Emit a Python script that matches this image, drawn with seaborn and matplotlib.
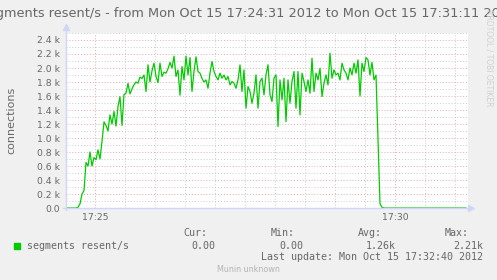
import matplotlib
matplotlib.use("Agg")
import matplotlib.pyplot as plt
import matplotlib.dates as mdates
from matplotlib.ticker import MultipleLocator, FuncFormatter
import seaborn as sns
import pandas as pd

# ---- data (segments resent per second, 2 s samples from 17:24:31) ----
start_time = "2012-10-15 17:24:31"
sample_step = "2s"
resent_values = [
    0, 0, 0, 0, 0, 0, 10, 60, 200, 250, 650, 600, 800, 600, 720, 690, 830, 700,
    950, 1230, 1180, 1100, 1330, 1200, 1380, 1170, 1450, 1590, 1180, 1620, 1640,
    1780, 1630, 1700, 1760, 1800, 1783, 1870, 1850, 1900, 1664, 2045, 1800, 1960,
    2069, 1880, 1790, 2069, 1880, 1940, 1926, 1990, 2080, 2000, 2170, 1880, 1970,
    1612, 2020, 1830, 2170, 1900, 2150, 1664, 1950, 2160, 1950, 1926, 1850, 1800,
    1830, 1711, 1926, 2093, 1950, 1878, 1830, 1926, 1854, 1900, 1830, 1878, 1759,
    1807, 1783, 1711, 1830, 2045, 1664, 1973, 1426, 1735, 1664, 1497, 1640, 1902,
    1426, 1807, 1854, 1616, 1902, 2045, 1616, 1521, 1854, 1902, 1163, 1830, 1545,
    1854, 1235, 1830, 1497, 1807, 1950, 1426, 1950, 1330, 1926, 1807, 1664, 1830,
    1640, 2140, 1664, 1926, 1830, 1997, 1592, 1783, 1902, 1759, 2212, 1854, 1973,
    1902, 1926, 1830, 2069, 1973, 1926, 1830, 2000, 1902, 2069, 1926, 2116, 1600,
    2069, 1950, 2150, 2116, 1900, 2080, 1830, 1900, 1000, 60, 10,
] + [0] * 42

title_text = "segments resent/s - from Mon Oct 15 17:24:31 2012 to Mon Oct 15 17:31:11 2012"
y_label = "connections"
series_name = "segments resent/s"
stat_headers = ["Cur:", "Min:", "Avg:", "Max:"]
stat_values = ["0.00", "0.00", "1.26k", "2.21k"]
last_update = "Last update: Mon Oct 15 17:32:40 2012"
footer = "Munin unknown"
watermark = "RRDTOOL / TOBI OETIKER"

times = pd.date_range(start_time, periods=len(resent_values), freq=sample_step)
df = pd.DataFrame({"time": times, "value": resent_values})

# ---- style ----
sns.set_theme(style="white")
plt.rcParams["font.family"] = ["DejaVu Sans"]
BACK = "#f0f0f0"
FONT = "#666666"
AXIS = "#cfd6f8"
GRID = "#cccccc"
MGRID = "#eaa8a8"
LINE = "#00cc00"

W, H = 497, 280
fig = plt.figure(figsize=(W / 100, H / 100), dpi=100, facecolor=BACK)
ax = fig.add_axes([66 / W, 1 - 208 / H, (468 - 66) / W, (208 - 33) / H])
ax.set_facecolor("white")

sns.lineplot(data=df, x="time", y="value", ax=ax, color=LINE, linewidth=0.9,
             zorder=5)

ax.set_xlim(pd.Timestamp("2012-10-15 17:24:31"), pd.Timestamp("2012-10-15 17:31:13"))
ax.set_ylim(0, 2500)

ax.xaxis.set_major_locator(mdates.MinuteLocator(byminute=[25, 30]))
ax.xaxis.set_minor_locator(mdates.SecondLocator(bysecond=[0, 30]))
ax.xaxis.set_major_formatter(mdates.DateFormatter("%H:%M"))
ax.yaxis.set_major_locator(MultipleLocator(200))
ax.yaxis.set_minor_locator(MultipleLocator(100))


def yfmt(v, pos):
    return "0.0" if v == 0 else f"{v / 1000:.1f} k"


ax.yaxis.set_major_formatter(FuncFormatter(yfmt))

dot = (0, (1, 2))
ax.grid(which="minor", color=GRID, linestyle=dot, linewidth=0.7)
ax.grid(which="major", color=MGRID, linestyle=dot, linewidth=0.7)
ax.set_axisbelow(True)

ax.tick_params(axis="both", which="both", length=2, width=0.7, color="#aaaaaa",
               labelsize=6.7, labelcolor=FONT, direction="out")
ax.tick_params(axis="y", which="both", pad=2.3)
ax.tick_params(axis="x", which="both", pad=1.4)
ax.set_xlabel("")
ax.set_ylabel(y_label, fontsize=8, color=FONT)
ax.yaxis.set_label_coords(-(66 - 16) / (468 - 66), 0.5)

for s in ax.spines.values():
    s.set_visible(False)

# axes with arrows (RRDtool style)
ax.plot([0, 0], [-0.012, 1.03], transform=ax.transAxes, color=AXIS, lw=1.0,
        clip_on=False, zorder=6)
ax.plot([-0.008, 1.006], [0, 0], transform=ax.transAxes, color=AXIS, lw=1.0,
        clip_on=False, zorder=6)
ax.plot([0], [1.035], marker="^", markersize=4, color=AXIS, transform=ax.transAxes,
        clip_on=False, zorder=6)
ax.plot([1.008], [0], marker=">", markersize=4, color=AXIS, transform=ax.transAxes,
        clip_on=False, zorder=6)

# title and watermark
fig.text(0.5, 1 - 14 / H, title_text, ha="center", va="center", fontsize=9.25,
         color=FONT)
fig.text(489 / W, 1 - 9 / H, watermark, rotation=270, ha="center", va="top",
         fontsize=5.5, color="#d0d0d0")

# legend block
mono = "DejaVu Sans Mono"
fig.patches.append(plt.Rectangle((14 / W, 1 - 248.5 / H), 5.5 / W, 5.5 / H,
                                 transform=fig.transFigure, color=LINE))
fig.text(27 / W, 1 - 246 / H, series_name, family=mono, fontsize=7.2,
         color=FONT, va="center", ha="left")
header_right = [207, 295, 382, 469]
value_right = [215, 303, 396, 483]
for hx, hd in zip(header_right, stat_headers):
    fig.text(hx / W, 1 - 233.5 / H, hd, family=mono, fontsize=7.2, color=FONT,
             va="center", ha="right")
for vx, vv in zip(value_right, stat_values):
    fig.text(vx / W, 1 - 246 / H, vv, family=mono, fontsize=7.2, color=FONT,
             va="center", ha="right")
fig.text(483 / W, 1 - 257.5 / H, last_update, family=mono, fontsize=7.2,
         color=FONT, va="center", ha="right")
fig.text(248.5 / W, 1 - 269 / H, footer, fontsize=5.8, color="#b4b4b4",
         va="center", ha="center")

fig.savefig("out.png", dpi=100, facecolor=BACK)
